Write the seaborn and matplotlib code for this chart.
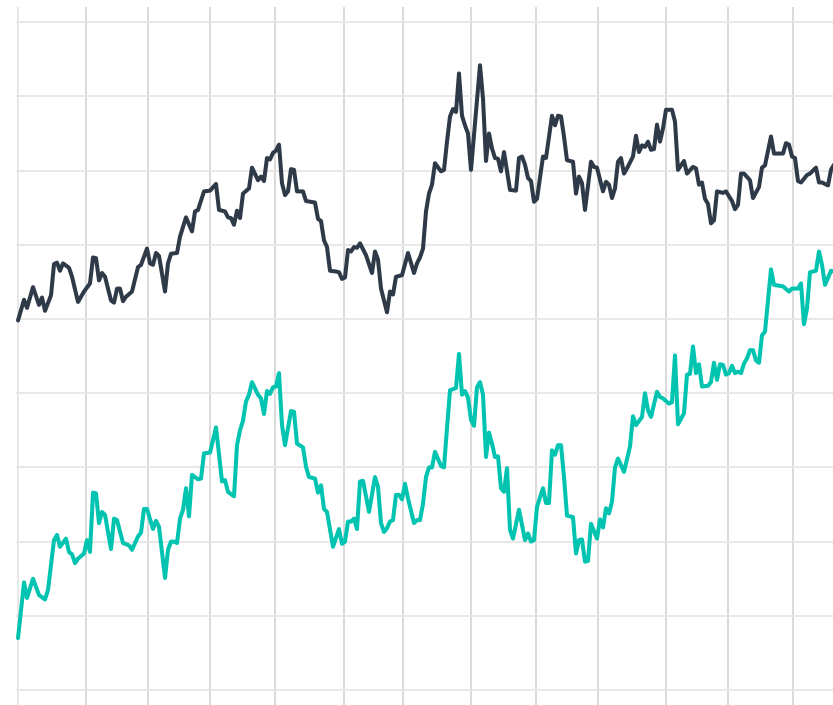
import pandas as pd
import seaborn as sns
import matplotlib
matplotlib.use("Agg")
import matplotlib.pyplot as plt

# upper series (dark)
top_days = [0, 2, 3, 5, 7, 8, 9, 11, 12, 13, 14, 15, 17, 18, 20, 22, 24, 25, 26, 27, 28, 29, 31, 32, 33, 34, 35, 36, 38, 40,
            41, 43, 44, 45, 46, 47, 49, 50, 51, 53, 54, 56, 58, 59, 60, 62, 64, 66, 67, 69, 70, 71, 72, 73, 74, 75, 77, 78, 80, 81,
            82, 83, 84, 85, 86, 87, 88, 89, 90, 91, 92, 93, 95, 96, 99, 100, 101, 102, 103, 104, 106, 107, 108, 109, 110, 111, 112, 113, 114, 116,
            118, 119, 120, 121, 123, 124, 125, 126, 128, 130, 132, 133, 134, 135, 136, 137, 138, 139, 141, 142, 143, 144, 145, 146, 147, 148, 149, 150, 151, 154,
            155, 156, 157, 158, 159, 160, 161, 162, 164, 166, 167, 168, 169, 170, 171, 172, 173, 174, 175, 176, 178, 179, 180, 181, 182, 183, 185, 186, 187, 188,
            189, 191, 192, 193, 195, 196, 197, 198, 199, 200, 201, 202, 203, 205, 206, 207, 208, 209, 210, 211, 212, 213, 214, 215, 216, 218, 219, 220, 222, 223,
            225, 226, 227, 228, 229, 230, 231, 232, 233, 235, 236, 238, 239, 240, 241, 242, 244, 245, 247, 248, 249, 251, 252, 255, 256, 257, 258, 259, 260, 261,
            263, 264, 266, 267, 268, 270, 271, 272]
top_values = [59.8, 62.6, 61.5, 64.3, 61.9, 62.9, 61.1, 63.2, 67.4, 67.6, 66.5, 67.5, 66.9, 65.7, 62.3, 63.7, 64.8, 68.3, 68.2, 65.2, 66.2, 65.7, 62.5, 62.2, 64.1, 64.1, 62.4, 63.0, 63.7, 67.0,
              67.3, 69.5, 67.5, 67.3, 68.9, 68.5, 63.7, 67.5, 68.8, 68.9, 71.1, 73.7, 71.8, 74.5, 74.7, 77.2, 77.3, 78.2, 74.7, 74.5, 73.7, 73.6, 72.7, 74.6, 73.6, 76.9, 77.6, 80.4, 78.7, 79.2,
              78.6, 81.7, 81.5, 82.4, 82.7, 83.5, 78.3, 76.7, 77.2, 80.2, 80.1, 77.2, 77.2, 75.9, 75.7, 73.5, 73.2, 70.6, 69.7, 66.5, 66.4, 66.3, 65.4, 65.6, 69.3, 69.1, 69.7, 69.6, 70.2, 68.6,
              66.2, 69.1, 68.0, 64.1, 60.9, 63.7, 63.3, 65.7, 65.9, 68.9, 66.2, 67.5, 68.3, 69.5, 74.5, 76.9, 78.1, 81.0, 79.9, 80.1, 83.9, 87.3, 88.3, 87.9, 93.1, 87.4, 86.1, 85.0, 80.1, 94.2,
              89.7, 81.3, 85.0, 83.0, 81.7, 81.6, 79.9, 82.5, 77.4, 77.3, 81.7, 81.9, 80.8, 79.0, 78.6, 75.8, 76.2, 79.0, 81.9, 81.7, 87.4, 86.1, 87.4, 87.3, 84.6, 81.4, 81.2, 76.9, 79.2, 78.3,
              74.7, 81.2, 80.5, 80.4, 77.2, 78.5, 78.1, 76.3, 77.6, 81.2, 81.7, 79.6, 80.3, 81.9, 84.7, 82.5, 83.4, 83.2, 83.9, 82.8, 82.9, 86.2, 83.9, 85.7, 88.2, 88.2, 86.6, 80.1, 81.3, 79.6,
              80.5, 80.3, 78.1, 78.4, 76.2, 75.5, 72.9, 73.3, 77.2, 77.0, 77.2, 75.9, 74.8, 75.4, 79.6, 79.6, 78.7, 76.3, 77.8, 80.4, 80.7, 84.6, 82.3, 82.3, 83.7, 83.5, 81.9, 81.7, 78.6, 78.4,
              79.4, 79.6, 80.4, 78.4, 78.4, 78.0, 80.1, 80.8]

# lower series (teal)
bottom_days = [0, 2, 3, 5, 7, 9, 10, 12, 13, 14, 16, 17, 18, 19, 20, 22, 23, 24, 25, 26, 27, 28, 29, 31, 32, 33, 35, 37, 38, 40,
               41, 42, 43, 45, 46, 47, 49, 50, 51, 52, 53, 54, 55, 56, 57, 58, 60, 61, 62, 64, 66, 68, 69, 70, 72, 73, 74, 75, 76, 77,
               78, 80, 81, 82, 83, 84, 85, 86, 87, 88, 89, 91, 92, 93, 95, 96, 97, 99, 100, 101, 102, 103, 105, 107, 108, 109, 110, 111, 112, 113,
               114, 115, 117, 119, 120, 121, 122, 123, 124, 125, 126, 127, 128, 129, 130, 132, 133, 134, 135, 136, 137, 138, 139, 141, 142, 143, 144, 146, 147, 148,
               149, 150, 151, 152, 153, 154, 155, 156, 157, 158, 159, 160, 161, 162, 163, 164, 165, 167, 169, 170, 171, 172, 173, 175, 176, 177, 178, 179, 180, 181,
               182, 183, 185, 186, 187, 188, 189, 190, 191, 193, 194, 195, 196, 197, 198, 199, 200, 202, 204, 205, 206, 208, 209, 210, 211, 213, 214, 215, 217, 218,
               219, 220, 222, 223, 224, 225, 226, 227, 228, 230, 231, 232, 233, 234, 235, 236, 237, 238, 239, 240, 241, 242, 243, 244, 245, 246, 247, 248, 249, 251,
               252, 255, 257, 258, 260, 261, 262, 263, 264, 266, 267, 268, 269, 271, 272]
bottom_values = [17.0, 24.5, 22.4, 25.0, 22.8, 22.2, 23.5, 30.2, 30.9, 29.3, 30.4, 28.6, 28.3, 27.1, 27.7, 28.4, 30.2, 28.6, 36.6, 36.5, 32.5, 34.0, 33.6, 29.0, 33.1, 32.9, 29.8, 29.5, 28.9, 30.7,
                 31.2, 34.4, 34.4, 31.7, 32.8, 32.0, 25.1, 28.9, 30.0, 30.0, 29.8, 33.1, 34.3, 37.2, 33.4, 39.0, 38.4, 38.5, 41.9, 42.0, 45.4, 38.1, 38.3, 36.7, 36.1, 43.0, 45.0, 46.3, 48.9, 49.8,
                 51.5, 49.8, 49.3, 47.2, 50.3, 49.9, 50.8, 50.9, 52.7, 45.7, 43.0, 47.6, 47.5, 43.2, 42.7, 40.1, 38.7, 38.5, 36.6, 37.6, 34.4, 34.0, 29.3, 31.7, 29.7, 30.0, 32.7, 32.7, 33.1, 31.7,
                 38.1, 38.2, 34.0, 38.7, 37.4, 32.5, 31.3, 31.8, 32.7, 32.9, 36.3, 36.3, 35.7, 37.8, 35.8, 32.5, 32.9, 32.9, 35.1, 38.7, 40.0, 40.0, 42.1, 40.2, 40.0, 45.3, 50.4, 50.7, 55.3, 49.8,
                 50.3, 49.4, 46.4, 45.6, 50.8, 51.5, 49.8, 41.4, 44.7, 43.2, 41.4, 41.5, 37.2, 36.7, 39.9, 31.6, 30.4, 34.3, 30.2, 31.1, 30.0, 30.2, 34.7, 37.2, 35.2, 35.2, 42.3, 41.7, 43.0, 43.0,
                 38.7, 33.5, 33.3, 28.4, 30.2, 30.3, 27.3, 27.4, 32.4, 30.4, 33.0, 31.9, 34.5, 33.8, 35.4, 40.0, 41.2, 39.4, 42.8, 46.9, 45.7, 46.8, 50.0, 47.7, 46.8, 50.2, 49.5, 49.3, 48.6, 48.8,
                 55.1, 45.8, 47.3, 52.5, 52.6, 56.3, 52.7, 53.9, 50.9, 51.0, 51.5, 54.1, 51.8, 53.9, 53.8, 52.5, 52.7, 53.7, 52.7, 52.9, 52.7, 54.0, 54.7, 55.8, 55.8, 54.4, 54.1, 57.8, 58.3, 66.7,
                 64.6, 64.4, 63.7, 64.1, 64.1, 64.8, 59.3, 61.4, 66.3, 66.5, 69.1, 67.3, 64.6, 66.5, 66.4]

# vertical grid positions (in days)
period_ticks = [0, 22.7, 43.4, 64.1, 85.8, 108.6, 128.3, 150.9, 172.6, 193.4, 216, 236.8, 258.4]
level_ticks = [10, 20, 30, 40, 50, 60, 70, 80, 90, 100]

top_df = pd.DataFrame({"day": top_days, "value": top_values})
bottom_df = pd.DataFrame({"day": bottom_days, "value": bottom_values})

sns.set_style("white")
fig = plt.figure(figsize=(8.33, 7.05), dpi=100)
ax = fig.add_axes([16 / 833, 0, 817 / 833, 698 / 705])

sns.lineplot(data=top_df, x="day", y="value", color="#2e3a48", linewidth=2.9,
             estimator=None, ax=ax)
sns.lineplot(data=bottom_df, x="day", y="value", color="#00c4b0", linewidth=2.9,
             estimator=None, ax=ax)
for line in ax.lines:
    line.set_solid_joinstyle("round")

ax.set_xlim(-0.67, 271.67)
ax.set_ylim(7.98, 102.05)
ax.set_xticks(period_ticks)
ax.set_yticks(level_ticks)
ax.set_xticklabels([])
ax.set_yticklabels([])
ax.tick_params(length=0)
ax.set_xlabel("")
ax.set_ylabel("")
ax.set_axisbelow(True)
ax.grid(axis="x", color="#cfcfcf", linewidth=1.1)
ax.grid(axis="y", color="#e6e6e6", linewidth=1.3)
ax.xaxis.get_gridlines()[0].set_color("#e2e2e2")
sns.despine(ax=ax, left=True, bottom=True)

fig.savefig("out.png", dpi=100)
